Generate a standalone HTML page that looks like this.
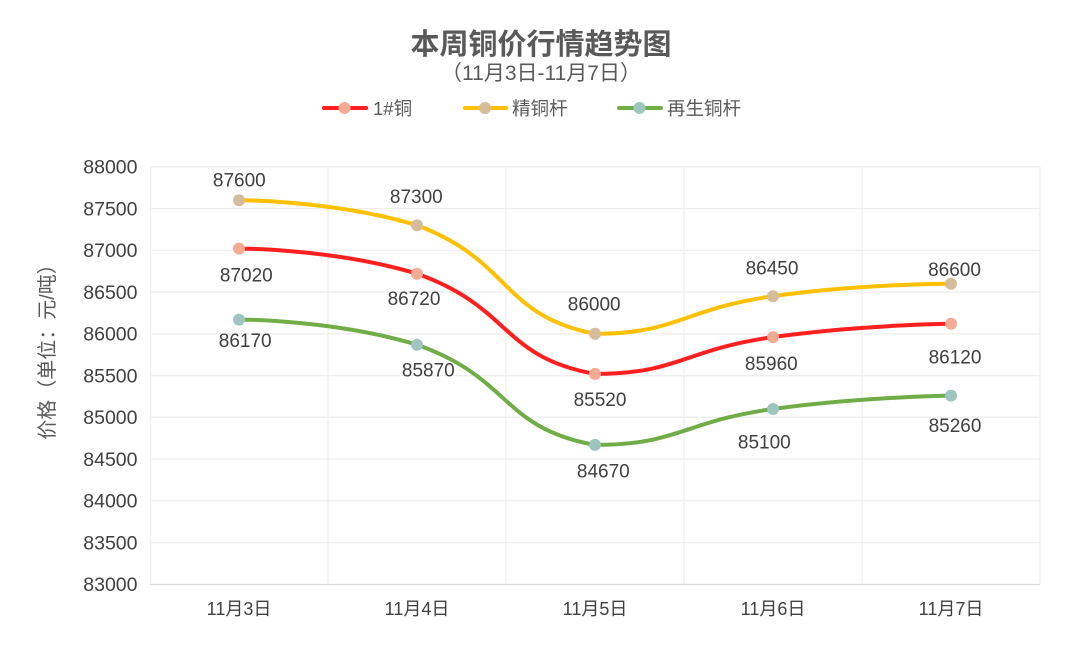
<!DOCTYPE html>
<html>
<head>
<meta charset="utf-8">
<style>
html,body{margin:0;padding:0;background:#fff;}
svg{display:block;}
text{font-family:"Liberation Sans","Noto Sans CJK SC",sans-serif;}
</style>
</head>
<body>
<svg width="1084" height="670" viewBox="0 0 1084 670" xmlns="http://www.w3.org/2000/svg">
<rect width="1084" height="670" fill="#fff"/>

<!-- Title -->
<text x="541" y="54" text-anchor="middle" font-size="29" font-weight="bold" fill="#595959">本周铜价行情趋势图</text>
<text x="541" y="80" text-anchor="middle" font-size="21" fill="#595959">（11月3日-11月7日）</text>

<!-- Legend -->
<g stroke-linecap="round">
<line x1="324" y1="108" x2="366" y2="108" stroke="#ff1f1f" stroke-width="4"/>
<circle cx="344.5" cy="108" r="6" fill="#f4ab94"/>
<line x1="465" y1="108" x2="506" y2="108" stroke="#ffc000" stroke-width="4"/>
<circle cx="485" cy="108" r="6" fill="#d5bd9b"/>
<line x1="619" y1="108" x2="661" y2="108" stroke="#70ad47" stroke-width="4"/>
<circle cx="639.5" cy="108" r="6" fill="#9ec5bf"/>
</g>
<g font-size="18.5" fill="#595959">
<text x="373" y="115">1#铜</text>
<text x="512" y="115">精铜杆</text>
<text x="667" y="115">再生铜杆</text>
</g>

<!-- Grid -->
<g stroke="#eeeeee" stroke-width="1.3">
<line x1="150" y1="166.8" x2="1040" y2="166.8"/>
<line x1="150" y1="208.55" x2="1040" y2="208.55"/>
<line x1="150" y1="250.3" x2="1040" y2="250.3"/>
<line x1="150" y1="292.05" x2="1040" y2="292.05"/>
<line x1="150" y1="333.8" x2="1040" y2="333.8"/>
<line x1="150" y1="375.55" x2="1040" y2="375.55"/>
<line x1="150" y1="417.3" x2="1040" y2="417.3"/>
<line x1="150" y1="459.05" x2="1040" y2="459.05"/>
<line x1="150" y1="500.8" x2="1040" y2="500.8"/>
<line x1="150" y1="542.55" x2="1040" y2="542.55"/>
<line x1="150.5" y1="166.8" x2="150.5" y2="584.3"/>
<line x1="328" y1="166.8" x2="328" y2="584.3"/>
<line x1="506" y1="166.8" x2="506" y2="584.3"/>
<line x1="684" y1="166.8" x2="684" y2="584.3"/>
<line x1="862" y1="166.8" x2="862" y2="584.3"/>
<line x1="1040" y1="166.8" x2="1040" y2="584.3"/>
</g>
<line x1="150" y1="584.5" x2="1040" y2="584.5" stroke="#d9d9d9" stroke-width="1.3"/>

<!-- Y tick labels -->
<g font-size="19.5" fill="#404040" text-anchor="end">
<text x="137.5" y="173.6">88000</text>
<text x="137.5" y="215.35">87500</text>
<text x="137.5" y="257.1">87000</text>
<text x="137.5" y="298.85">86500</text>
<text x="137.5" y="340.6">86000</text>
<text x="137.5" y="382.35">85500</text>
<text x="137.5" y="424.1">85000</text>
<text x="137.5" y="465.85">84500</text>
<text x="137.5" y="507.6">84000</text>
<text x="137.5" y="549.35">83500</text>
<text x="137.5" y="591.1">83000</text>
</g>

<!-- Y axis name -->
<text transform="translate(54,347) rotate(-90)" text-anchor="middle" font-size="20" fill="#595959">价格（单位：元/吨）</text>

<!-- X labels -->
<g font-size="18" fill="#404040" text-anchor="middle">
<text x="239" y="615">11月3日</text>
<text x="417" y="615">11月4日</text>
<text x="595" y="615">11月5日</text>
<text x="773" y="615">11月6日</text>
<text x="951" y="615">11月7日</text>
</g>

<!-- Series lines -->
<g fill="none" stroke-width="4" stroke-linecap="round" stroke-linejoin="round">
<path stroke="#ffc000" d="M239,200.2 C239,200.2 334.6,200.2 417,225.3 C512.6,261.2 500,314.9 595,333.8 C677.9,333.8 683.1,308.9 773,296.2 C861.1,283.8 951,283.7 951,283.7"/>
<path stroke="#ff1f1f" d="M239,248.6 C239,248.6 333.7,248.6 417,273.7 C511.7,307 500.8,357.1 595,373.9 C678.8,373.9 683.2,349.7 773,337.1 C861.2,324.7 951,323.8 951,323.8"/>
<path stroke="#70ad47" d="M239,319.6 C239,319.6 333.7,319.6 417,344.7 C511.7,378 500.8,427.9 595,444.9 C678.8,444.9 683.2,421.4 773,409 C861.2,396.8 951,395.6 951,395.6"/>
</g>

<!-- Markers -->
<g fill="#d5bd9b">
<circle cx="239" cy="200.2" r="6"/><circle cx="417" cy="225.3" r="6"/><circle cx="595" cy="333.8" r="6"/><circle cx="773" cy="296.2" r="6"/><circle cx="951" cy="283.7" r="6"/>
</g>
<g fill="#f4ab94">
<circle cx="239" cy="248.6" r="6"/><circle cx="417" cy="273.7" r="6"/><circle cx="595" cy="373.9" r="6"/><circle cx="773" cy="337.1" r="6"/><circle cx="951" cy="323.8" r="6"/>
</g>
<g fill="#9ec5bf">
<circle cx="239" cy="319.6" r="6"/><circle cx="417" cy="344.7" r="6"/><circle cx="595" cy="444.9" r="6"/><circle cx="773" cy="409" r="6"/><circle cx="951" cy="395.6" r="6"/>
</g>

<!-- Data labels -->
<g font-size="19" fill="#404040" text-anchor="middle">
<text x="239.3" y="186.5">87600</text>
<text x="416.3" y="203.1">87300</text>
<text x="594.2" y="310.6">86000</text>
<text x="772" y="274.3">86450</text>
<text x="954.5" y="276">86600</text>
<text x="246.3" y="281.6">87020</text>
<text x="414" y="304.8">86720</text>
<text x="600" y="405.8">85520</text>
<text x="771.3" y="370.1">85960</text>
<text x="955" y="363.5">86120</text>
<text x="245.2" y="347.1">86170</text>
<text x="428.3" y="376.5">85870</text>
<text x="603.3" y="477.6">84670</text>
<text x="764.3" y="448.5">85100</text>
<text x="955" y="432.1">85260</text>
</g>
</svg>
</body>
</html>
